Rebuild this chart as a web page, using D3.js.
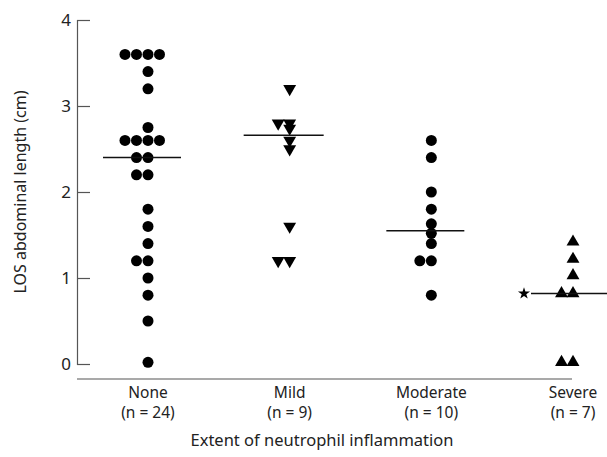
<!DOCTYPE html>
<html>
<head>
<meta charset="utf-8">
<script src="https://cdn.jsdelivr.net/npm/d3@7"></script>
<style>
  body { margin: 0; background: #fff; }
  svg { display: block; }
  text { font-family: "Noto Sans", "DejaVu Sans", sans-serif; fill: #222; }
</style>
</head>
<body>
<svg width="607" height="457"></svg>
<script>
const categories = ['None', 'Mild', 'Moderate', 'Severe'];
const countLabels = ['(n = 24)', '(n = 9)', '(n = 10)', '(n = 7)'];
const symbols = ['circle', 'down', 'circle', 'up'];

const noneValues = [3.6, 3.6, 3.6, 3.6, 3.4, 3.2, 2.75, 2.6, 2.6, 2.6, 2.6, 2.4, 2.4,
  2.2, 2.2, 1.8, 1.6, 1.4, 1.2, 1.2, 1.0, 0.8, 0.5, 0.02];
const mildValues = [3.2, 2.8, 2.8, 2.74, 2.6, 2.5, 1.6, 1.2, 1.2];
const moderateValues = [2.6, 2.4, 2.0, 1.8, 1.63, 1.52, 1.4, 1.2, 1.2, 0.8];
const severeValues = [1.42, 1.22, 1.03, 0.82, 0.82, 0.02, 0.02];
const medians = [2.4, 2.66, 1.55, 0.82];

const yTicks = [0, 1, 2, 3, 4];

const svg = d3.select('svg');

const x = d3.scalePoint().domain(categories).range([148, 573]);
const y = d3.scaleLinear().domain([0, 4]).range([364, 20]);
const jitterStep = 11.5;

// y axis (ticks pointing inward)
const yAxis = svg.append('g')
  .attr('transform', 'translate(77,0)')
  .call(d3.axisRight(y).tickValues(yTicks).tickSize(13).tickFormat(''));
yAxis.select('.domain').attr('stroke', '#555').attr('stroke-width', 1.2);
yAxis.selectAll('.tick line').attr('stroke', '#555').attr('stroke-width', 1.2);

svg.selectAll('.ylab').data(yTicks)
  .enter()
  .append('text')
  .attr('class', 'ylab')
  .attr('x', 71)
  .attr('y', d => y(d) + 6)
  .attr('text-anchor', 'end')
  .attr('font-size', '17px')
  .text(d => d);

// x axis line
svg.append('line')
  .attr('x1', 77)
  .attr('y1', 379)
  .attr('x2', 572)
  .attr('y2', 379)
  .attr('stroke', '#555')
  .attr('stroke-width', 1.2);

svg.selectAll('.xlab').data(categories)
  .enter()
  .append('text')
  .attr('class', 'xlab')
  .attr('x', d => x(d))
  .attr('y', 398)
  .attr('text-anchor', 'middle')
  .attr('font-size', '15.5px')
  .text(d => d);

svg.selectAll('.nlab').data(countLabels)
  .enter()
  .append('text')
  .attr('class', 'nlab')
  .attr('x', (d, i) => x(categories[i]))
  .attr('y', 418)
  .attr('text-anchor', 'middle')
  .attr('font-size', '15.5px')
  .text(d => d);

svg.append('text')
  .attr('x', 322)
  .attr('y', 446)
  .attr('text-anchor', 'middle')
  .attr('font-size', '16.5px')
  .text('Extent of neutrophil inflammation');

svg.append('text')
  .attr('transform', 'translate(26,192) rotate(-90)')
  .attr('text-anchor', 'middle')
  .attr('font-size', '16px')
  .text('LOS abdominal length (cm)');

// points, spread sideways when values tie
const groups = [noneValues, mildValues, moderateValues, severeValues];
const points = [];
groups.forEach((vals, gi) => {
  const counts = d3.rollup(vals, v => v.length, v => v);
  const seen = new Map();
  vals.forEach(v => {
    const n = counts.get(v);
    const k = seen.get(v) || 0;
    seen.set(v, k + 1);
    points.push({ cat: categories[gi], value: v, sym: symbols[gi], off: k - Math.floor(n / 2) });
  });
});

const sym = {
  circle: d3.symbol().type(d3.symbolCircle).size(95),
  up: d3.symbol().type(d3.symbolTriangle).size(72),
  down: d3.symbol().type(d3.symbolTriangle).size(72)
};

svg.selectAll('.pt').data(points)
  .enter()
  .append('path')
  .attr('class', 'pt')
  .attr('d', d => sym[d.sym]())
  .attr('transform', d => {
    const px = x(d.cat) + d.off * jitterStep;
    const py = y(d.value);
    return `translate(${px},${py})` + (d.sym === 'down' ? ' rotate(180)' : '');
  })
  .attr('fill', '#000');

// median lines
const halfW = [39, 40, 39, 0];
svg.selectAll('.med').data(medians)
  .enter()
  .append('line')
  .attr('class', 'med')
  .attr('x1', (d, i) => i === 3 ? 531 : x(categories[i]) - halfW[i] - 6)
  .attr('x2', (d, i) => i === 3 ? 607 : x(categories[i]) + halfW[i] - 6)
  .attr('y1', d => y(d))
  .attr('y2', d => y(d))
  .attr('stroke', '#111')
  .attr('stroke-width', 1.5);

// star marking the severe median
svg.append('path')
  .attr('d', d3.symbol().type(d3.symbolStar).size(45)())
  .attr('transform', `translate(524,${y(medians[3])})`)
  .attr('fill', '#000');
</script>
</body>
</html>
